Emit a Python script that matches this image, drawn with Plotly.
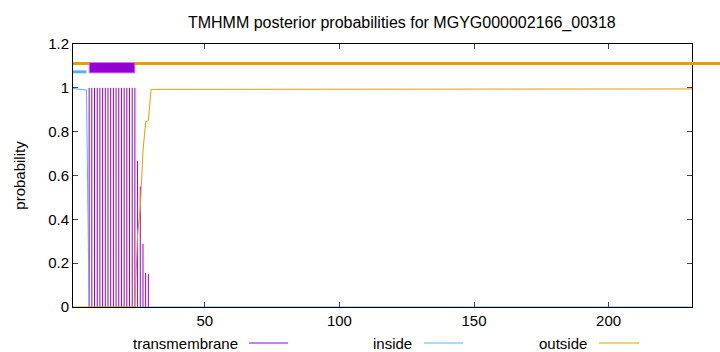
import plotly.graph_objects as go

# ---------------- data ----------------
protein_id = "MGYG000002166_00318"
seq_len = 231
residues = list(range(1, seq_len + 1))

# posterior probability of transmembrane state per residue
tm_prob = [0.0] * 6 + [1.0] * 18 + [0.667, 0.55, 0.288, 0.155, 0.15] + [0.0] * (seq_len - 29)
# posterior probability of inside state per residue
inside_prob = [0.997, 0.996, 0.995, 0.994, 0.993, 0.99] + [0.0] * (seq_len - 6)
# posterior probability of outside state per residue
outside_prob = ([0.0] * 24 + [0.333, 0.45, 0.712, 0.845, 0.85]
                + [0.993] * 5 + [0.995] * (seq_len - 34))

# predicted topology (segments) shown as bars at top
inside_segs = [(1, 6)]
tm_segs = [(7, 24)]
outside_segs = [(1, seq_len)]
topo_levels = {"outside": 1.111, "inside": 1.073, "tm_lo": 1.068, "tm_hi": 1.116}

x_ticks = [50, 100, 150, 200]
y_ticks = [0, 0.2, 0.4, 0.6, 0.8, 1.0, 1.2]
y_tick_text = ["0", "0.2", "0.4", "0.6", "0.8", "1", "1.2"]

series_names = ["transmembrane", "inside", "outside"]
colors = {"transmembrane": "#9400d3", "inside": "#56b4e9", "outside": "#e69f00"}

# ---------------- figure ----------------
W, H = 720, 352
ML, MR, MT, MB = 73, 28, 44, 45
x_range = [1, seq_len]
FS = 15

fig = go.Figure()

# impulses for transmembrane
imp_x, imp_y = [], []
for r, p in zip(residues, tm_prob):
    if p > 0:
        imp_x += [r, r, None]
        imp_y += [0, p, None]
fig.add_trace(go.Scatter(x=imp_x, y=imp_y, mode="lines",
                         line=dict(color=colors["transmembrane"], width=1),
                         showlegend=False, hoverinfo="skip"))
fig.add_trace(go.Scatter(x=residues, y=inside_prob, mode="lines",
                         line=dict(color=colors["inside"], width=1),
                         showlegend=False))
fig.add_trace(go.Scatter(x=residues, y=outside_prob, mode="lines",
                         line=dict(color=colors["outside"], width=1),
                         showlegend=False))

def xpaper(v):
    return (v - x_range[0]) / (x_range[1] - x_range[0])

plot_w = W - ML - MR
# outside topology line runs across and out past the right border
for a, b in outside_segs:
    fig.add_shape(type="line", xref="paper", yref="y",
                  x0=xpaper(a), x1=1 + MR / plot_w + 0.01,
                  y0=topo_levels["outside"], y1=topo_levels["outside"],
                  line=dict(color=colors["outside"], width=3))
for a, b in inside_segs:
    fig.add_shape(type="line", xref="x", yref="y", x0=a, x1=b,
                  y0=topo_levels["inside"], y1=topo_levels["inside"],
                  line=dict(color=colors["inside"], width=3))
for a, b in tm_segs:
    fig.add_shape(type="rect", xref="x", yref="y", x0=a, x1=b,
                  y0=topo_levels["tm_lo"], y1=topo_levels["tm_hi"],
                  fillcolor=colors["transmembrane"],
                  line=dict(color="#c888e8", width=1))

# gnuplot-style legend below the plot: text then line sample
leg_y = -(343 - (H - MB)) / (H - MT - MB)
leg_text_end = [240, 414, 589]
leg_line = [(249, 288), (424, 463), (599, 639)]
for name, te, (l0, l1) in zip(series_names, leg_text_end, leg_line):
    fig.add_annotation(text=name, xref="paper", yref="paper",
                       x=(te - ML) / plot_w, y=leg_y, xanchor="right", yanchor="middle",
                       showarrow=False, font=dict(size=FS, color="#000000"))
    fig.add_shape(type="line", xref="paper", yref="paper",
                  x0=(l0 - ML) / plot_w, x1=(l1 - ML) / plot_w, y0=leg_y, y1=leg_y,
                  line=dict(color=colors[name], width=1))

fig.update_layout(
    width=W, height=H,
    margin=dict(l=ML, r=MR, t=MT, b=MB, pad=0),
    paper_bgcolor="white", plot_bgcolor="white",
    font=dict(family="Liberation Sans, Arial, sans-serif", size=FS, color="#000000"),
    title=dict(text=f"TMHMM posterior probabilities for {protein_id}",
               x=(ML + plot_w / 2) / W, xref="paper", xanchor="center",
               y=1 - 22 / H, yref="container", yanchor="middle",
               font=dict(size=16)),
    showlegend=False,
)
fig.update_xaxes(range=x_range, tickvals=x_ticks, ticks="inside", ticklen=5,
                 showline=True, linecolor="black", linewidth=1, mirror="allticks",
                 showgrid=False, zeroline=False, tickfont=dict(size=FS))
fig.update_yaxes(range=[0, 1.2], tickvals=y_ticks, ticktext=y_tick_text,
                 ticks="inside", ticklen=5,
                 showline=True, linecolor="black", linewidth=1, mirror="allticks",
                 showgrid=False, zeroline=False, tickfont=dict(size=FS),
                 title=dict(text="probability", standoff=18, font=dict(size=FS)))

fig.write_html("out.html")
